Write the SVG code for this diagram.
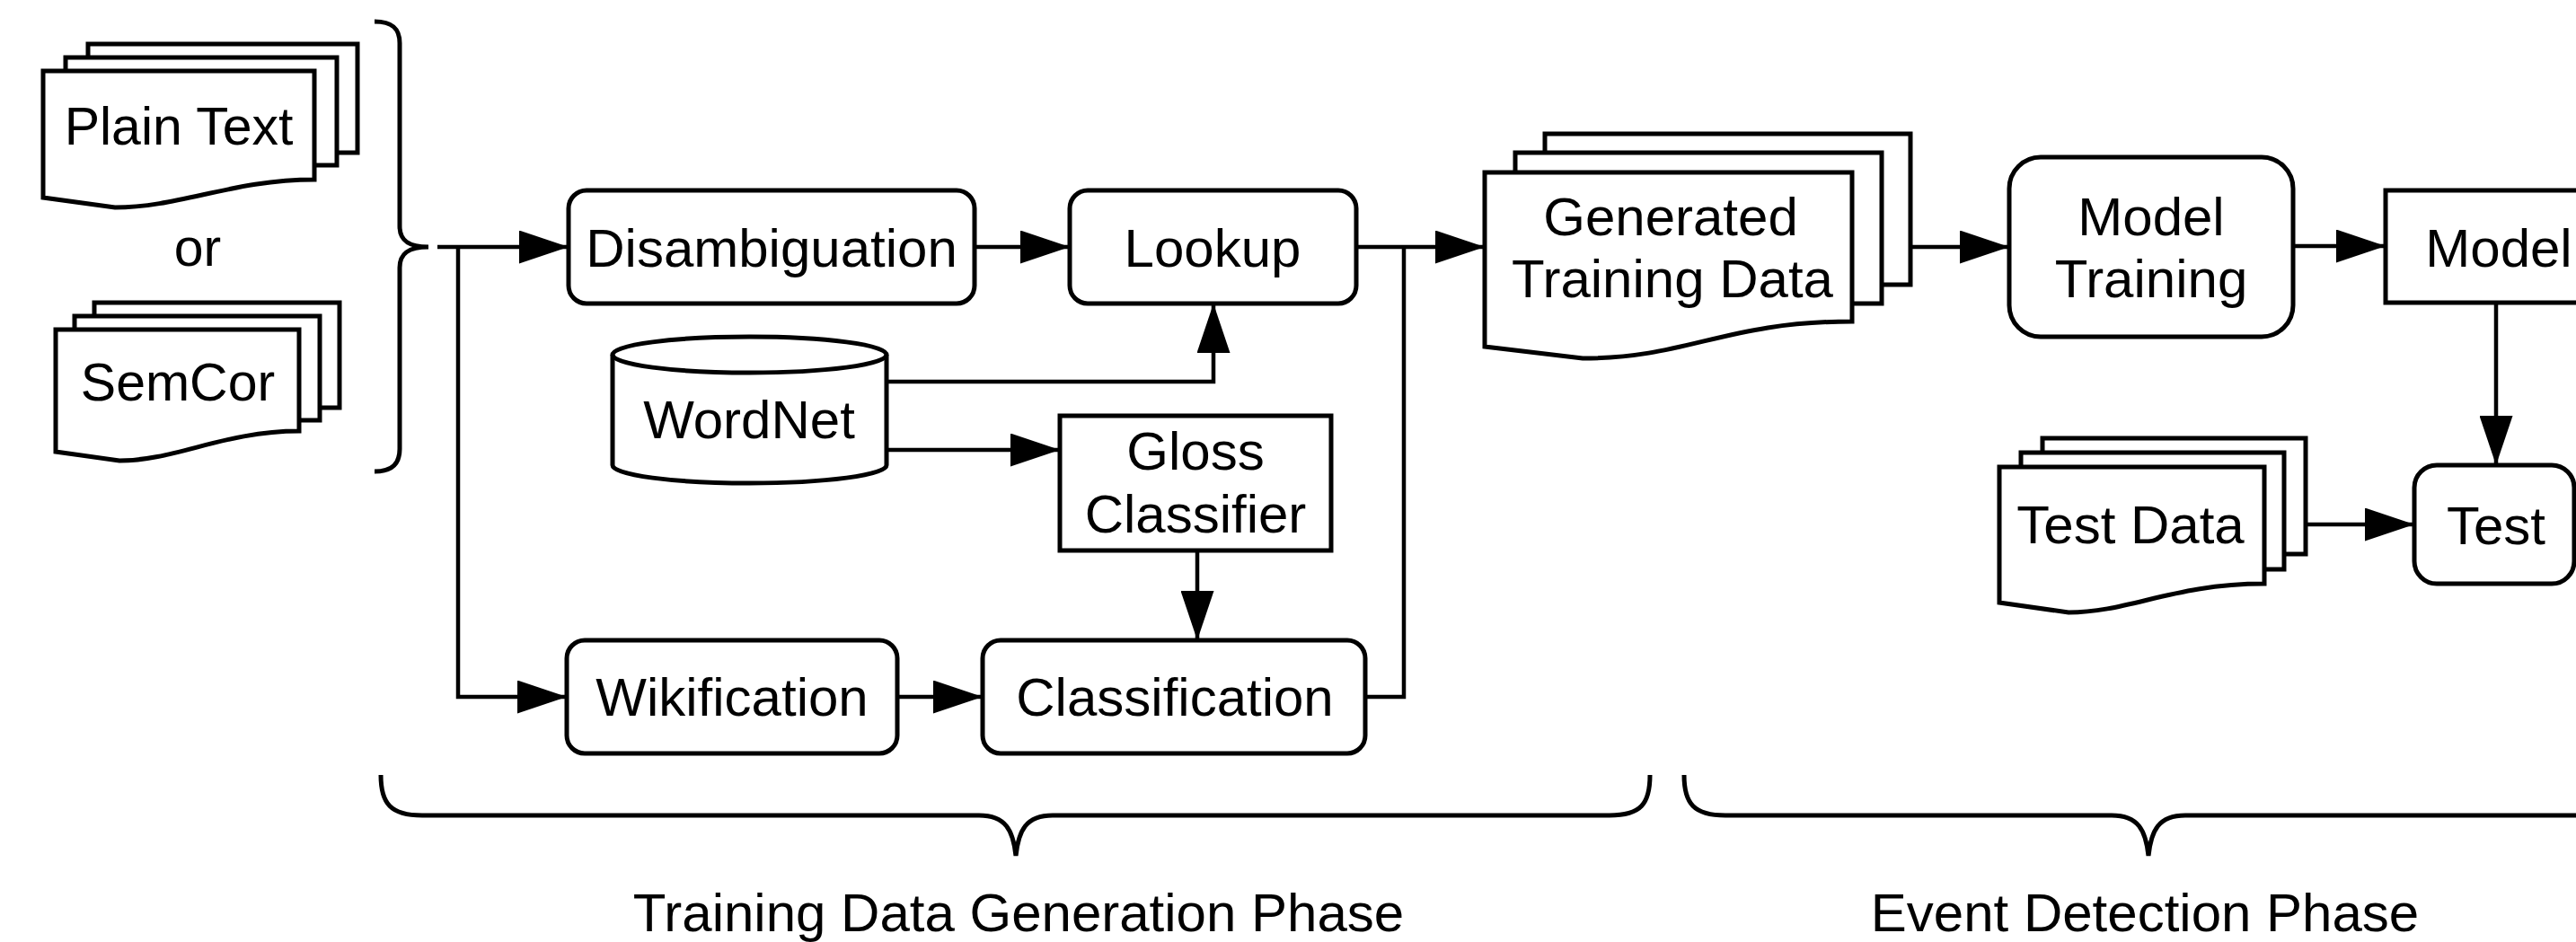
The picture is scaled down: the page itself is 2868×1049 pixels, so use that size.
<svg xmlns="http://www.w3.org/2000/svg" width="2868" height="1049" viewBox="0 0 2868 1049">
<style>
.box{fill:#fff;stroke:#000;stroke-width:5}
.sheet{fill:#fff;stroke:#000;stroke-width:5;stroke-linejoin:miter}
.ln{fill:none;stroke:#000;stroke-width:4.5}
.br{fill:none;stroke:#000;stroke-width:5}
text{font-family:"Liberation Sans",Arial,sans-serif;font-size:60px;fill:#000;text-anchor:middle}
.ph{font-size:60px}
</style>
<defs>
<marker id="ah" viewBox="0 0 55 37" refX="55" refY="18.5" markerWidth="55" markerHeight="37" markerUnits="userSpaceOnUse" orient="auto">
<path d="M0 0 L55 18.5 L0 37 Z" fill="#000"/>
</marker>
</defs>
<rect width="2868" height="1049" fill="#fff"/>

<g id="plain-text">
<rect class="sheet" x="98" y="49" width="300" height="121"/>
<rect class="sheet" x="73" y="64" width="302" height="120"/>
<path class="sheet" d="M48 79 H350 V200 C260 200 200 231 128 231 L48 220 Z"/>
<text x="199" y="161" style="font-size:59px">Plain Text</text>
</g>

<g id="or"><text x="220" y="296" style="font-size:59px">or</text></g>

<g id="semcor">
<rect class="sheet" x="105" y="337" width="273" height="117"/>
<rect class="sheet" x="83" y="352" width="273" height="116"/>
<path class="sheet" d="M62 367 H333 V480 C250 480 195 513 133 513 L62 503 Z"/>
<text x="198" y="446" style="font-size:59px">SemCor</text>
</g>

<g id="input-brace">
<path class="br" d="M417 24 C437 24 445 32 445 48 L445 252 C445 268 455 275 477 275 C455 275 445 282 445 298 L445 500 C445 516 437 525 417 525"/>
</g>

<g id="disambiguation">
<rect class="box" x="633" y="212" width="452" height="126" rx="20"/>
<text x="859" y="297">Disambiguation</text>
</g>

<g id="lookup">
<rect class="box" x="1191" y="212" width="319" height="126" rx="20"/>
<text x="1350" y="297">Lookup</text>
</g>

<g id="wordnet">
<path class="box" d="M682 395 A152.5 20 0 0 1 987 395 V518 A152.5 20 0 0 1 682 518 Z"/>
<path class="ln" style="stroke-width:5" d="M682 395 A152.5 20 0 0 0 987 395"/>
<text x="834" y="488">WordNet</text>
</g>

<g id="gloss-classifier">
<rect class="box" x="1180" y="463" width="302" height="150"/>
<text x="1331" y="523">Gloss</text>
<text x="1331" y="593">Classifier</text>
</g>

<g id="wikification">
<rect class="box" x="631" y="713" width="368" height="126" rx="20"/>
<text x="815" y="797">Wikification</text>
</g>

<g id="classification">
<rect class="box" x="1094" y="713" width="426" height="126" rx="20"/>
<text x="1308" y="797">Classification</text>
</g>

<g id="generated-training-data">
<rect class="sheet" x="1720" y="149" width="407" height="168"/>
<rect class="sheet" x="1687" y="170" width="408" height="168"/>
<path class="sheet" d="M1653 192 H2062 V358 C1920 358 1880 399 1762 399 L1653 386 Z"/>
<text x="1860" y="262">Generated</text>
<text x="1862" y="331">Training Data</text>
</g>

<g id="model-training">
<rect class="box" x="2237" y="175" width="316" height="200" rx="35"/>
<text x="2395" y="262">Model</text>
<text x="2395" y="331">Training</text>
</g>

<g id="model">
<rect class="box" x="2656" y="212" width="254" height="125"/>
<text x="2782" y="297">Model</text>
</g>

<g id="test-data">
<rect class="sheet" x="2274" y="488" width="293" height="129"/>
<rect class="sheet" x="2250" y="504" width="293" height="130"/>
<path class="sheet" d="M2226 520 H2521 V650 C2420 650 2370 682 2303 682 L2226 671 Z"/>
<text x="2372" y="605">Test Data</text>
</g>

<g id="test">
<rect class="box" x="2688" y="518" width="178" height="132" rx="25"/>
<text x="2779" y="606">Test</text>
</g>

<g id="connectors">
<path class="ln" d="M487 275 H633" marker-end="url(#ah)"/>
<path class="ln" d="M510 275 V776 H631" marker-end="url(#ah)"/>
<path class="ln" d="M1085 275 H1191" marker-end="url(#ah)"/>
<path class="ln" d="M987 425 H1351 V338" marker-end="url(#ah)"/>
<path class="ln" d="M987 501 H1180" marker-end="url(#ah)"/>
<path class="ln" d="M1333 613 V713" marker-end="url(#ah)"/>
<path class="ln" d="M999 776 H1094" marker-end="url(#ah)"/>
<path class="ln" d="M1510 275 H1653" marker-end="url(#ah)"/>
<path class="ln" d="M1520 776 H1563 V275"/>
<path class="ln" d="M2127 275 H2237" marker-end="url(#ah)"/>
<path class="ln" d="M2553 274 H2656" marker-end="url(#ah)"/>
<path class="ln" d="M2779 337 V518" marker-end="url(#ah)"/>
<path class="ln" d="M2567 584 H2688" marker-end="url(#ah)"/>
</g>

<g id="training-phase">
<path class="br" d="M424 863 C424 895 435 908 470 908 L1090 908 C1120 908 1128 925 1131 953 C1134 925 1142 908 1172 908 L1792 908 C1827 908 1837 895 1837 863"/>
<text class="ph" x="1134" y="1037">Training Data Generation Phase</text>
</g>

<g id="event-phase">
<path class="br" d="M1875 863 C1875 895 1886 908 1921 908 L2351 908 C2381 908 2389 925 2392 953 C2395 925 2403 908 2433 908 L2863 908 C2898 908 2909 895 2909 863"/>
<text class="ph" x="2388" y="1037">Event Detection Phase</text>
</g>
</svg>
